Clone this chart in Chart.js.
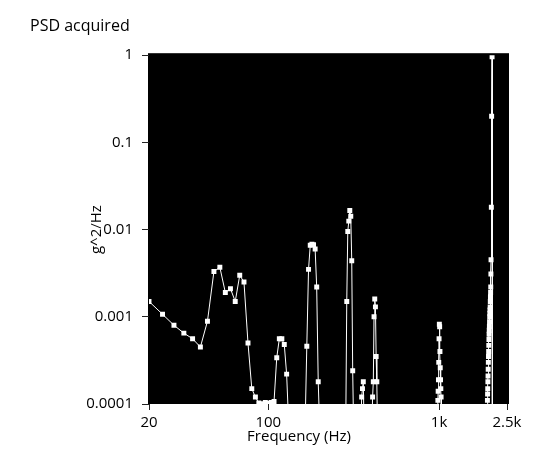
<!DOCTYPE html>
<html>
<head>
<meta charset="utf-8">
<title>PSD acquired</title>
<script src="https://cdn.jsdelivr.net/npm/chart.js@4/dist/chart.umd.min.js"></script>
<style>
  html, body { margin: 0; padding: 0; background: #ffffff; }
  #wrap { width: 536px; height: 462px; }
</style>
</head>
<body>
<div id="wrap"><canvas id="psd" width="536" height="462"></canvas></div>
<script>
// Frequency bins (Hz) of the acquired power spectral density
const freqHz = [
  20, 24, 28, 32, 36, 40, 44, 48, 52, 56, 60, 64, 68, 72, 76, 80, 84,
  88, 92, 96, 100, 104, 108, 112, 116, 120, 124, 128, 132,
  164, 168, 172, 176, 180, 184, 188, 192, 196, 200,
  284, 288, 292, 296, 300, 304, 308, 312, 316,
  348, 352, 356, 360, 364,
  404, 408, 412, 416, 420, 424, 428, 432, 436,
  980, 984, 988, 992, 996, 1000, 1004, 1008, 1012, 1016, 1020, 1024, 1028, 1032,
  1916, 1920, 1924, 1928, 1932, 1936, 1940, 1944, 1948, 1952, 1956, 1960, 1964,
  1968, 1972, 1976, 1980, 1984, 1988, 1992, 1996, 2000, 2004, 2008, 2012, 2016,
  2024, 2032, 2044, 2052, 2500
];

// PSD level at each bin (g^2/Hz)
const psdValues = [
  0.0015, 0.00107, 0.0008, 0.00065, 0.00056, 0.00045, 0.00089, 0.0033, 0.0037,
  0.0019, 0.0021, 0.0015, 0.003, 0.0025, 0.0005, 0.00015, 0.00012,
  0.000103, 0.000101, 0.000104, 0.000102, 0.000104, 0.000107, 0.00034, 0.00056,
  0.00056, 0.00048, 0.00022, 0.00005,
  0.00005, 0.00046, 0.0035, 0.0066, 0.0068, 0.0067, 0.006, 0.0022, 0.00018, 0.00005,
  0.00005, 0.0015, 0.0095, 0.0125, 0.0166, 0.0142, 0.0044, 0.00024, 0.00005,
  0.00005, 0.00012, 0.00015, 0.00018, 0.00005,
  0.00005, 0.00012, 0.00018, 0.001, 0.0016, 0.0013, 0.00035, 0.00018, 0.00005,
  0.00005, 0.00011, 0.00014, 0.00019, 0.0003, 0.00056, 0.00082, 0.00077, 0.0004,
  0.00026, 0.00019, 0.00015, 0.00012, 0.00005,
  0.00005, 0.00011, 0.00013, 0.00015, 0.00018, 0.00021, 0.00025, 0.0003, 0.00035,
  0.0004, 0.00047, 0.00055, 0.00063, 0.0007, 0.00078, 0.00088, 0.001, 0.0011,
  0.0012, 0.0013, 0.0015, 0.0017, 0.0019, 0.0022, 0.0031, 0.0045,
  0.018, 0.2, 0.96, 0.00005, 0.00005
];

// Axis ticks and their printed labels
const xTickValues = [20, 100, 1000, 2500];
const xTickLabels = ['20', '100', '1k', '2.5k'];
const yTickValues = [1, 0.1, 0.01, 0.001, 0.0001];
const yTickLabels = ['1', '0.1', '0.01', '0.001', '0.0001'];

const xAxisName = 'Frequency (Hz)';
const yAxisName = 'g^2/Hz';

const FONT = "'Open Sans', 'Noto Sans', sans-serif";
const TEXT = '#000000';

// Paint the plot area black before anything else is drawn
const plotBackground = {
  id: 'plotBackground',
  beforeDraw(chart) {
    const { ctx, chartArea: a } = chart;
    ctx.save();
    ctx.fillStyle = '#000000';
    ctx.fillRect(a.left - 1, a.top - 2, a.right - a.left + 3, a.bottom - a.top + 2);
    ctx.restore();
  }
};

// The frequency axis name sits left of the plot's centre, under the 100–1k span
const xAxisTitle = {
  id: 'xAxisTitle',
  afterDraw(chart) {
    const { ctx, chartArea: a } = chart;
    ctx.save();
    ctx.fillStyle = TEXT;
    ctx.font = "15px " + FONT;
    ctx.textAlign = 'center';
    ctx.textBaseline = 'middle';
    ctx.fillText(xAxisName, a.left + 150, a.bottom + 33);
    ctx.restore();
  }
};

new Chart(document.getElementById('psd'), {
  type: 'line',
  data: {
    labels: freqHz,
    datasets: [{
      data: freqHz.map((f, i) => ({ x: f, y: psdValues[i] })),
      borderColor: '#ffffff',
      borderWidth: 1,
      tension: 0,
      pointStyle: 'rect',
      pointRadius: 3.5,
      pointBorderWidth: 0,
      pointBackgroundColor: '#ffffff'
    }]
  },
  options: {
    responsive: false,
    animation: false,
    events: [],
    layout: { padding: { left: 30, right: 29, top: 0, bottom: 0 } },
    plugins: {
      legend: { display: false },
      tooltip: { enabled: false },
      title: {
        display: true,
        text: 'PSD acquired',
        align: 'start',
        color: TEXT,
        font: { family: FONT, size: 16, weight: 'normal' },
        padding: { top: 17, bottom: 19 }
      }
    },
    scales: {
      x: {
        type: 'logarithmic',
        min: 20,
        max: 2500,
        afterBuildTicks(scale) { scale.ticks = xTickValues.map(v => ({ value: v })); },
        afterFit(scale) { scale.height = 58; },
        ticks: {
          autoSkip: false,
          maxRotation: 0,
          color: TEXT,
          padding: 4,
          font: { family: FONT, size: 15 },
          callback: (v, i) => xTickLabels[i]
        },
        grid: { drawOnChartArea: false, drawTicks: true, tickLength: 6, color: '#222' },
        border: { display: false },
        title: { display: false }
      },
      y: {
        type: 'logarithmic',
        min: 0.0001,
        max: 1,
        afterBuildTicks(scale) { scale.ticks = yTickValues.map(v => ({ value: v })); },
        afterFit(scale) { scale.width = 119; },
        ticks: {
          autoSkip: false,
          color: TEXT,
          padding: 9,
          font: { family: FONT, size: 15 },
          callback: (v, i) => yTickLabels[i]
        },
        grid: { drawOnChartArea: false, drawTicks: true, tickLength: 7, color: '#222' },
        border: { display: false },
        title: {
          display: true,
          text: yAxisName,
          color: TEXT,
          font: { family: FONT, size: 15 },
          padding: { top: 58, bottom: 0 }
        }
      }
    }
  },
  plugins: [plotBackground, xAxisTitle]
});
</script>
</body>
</html>
